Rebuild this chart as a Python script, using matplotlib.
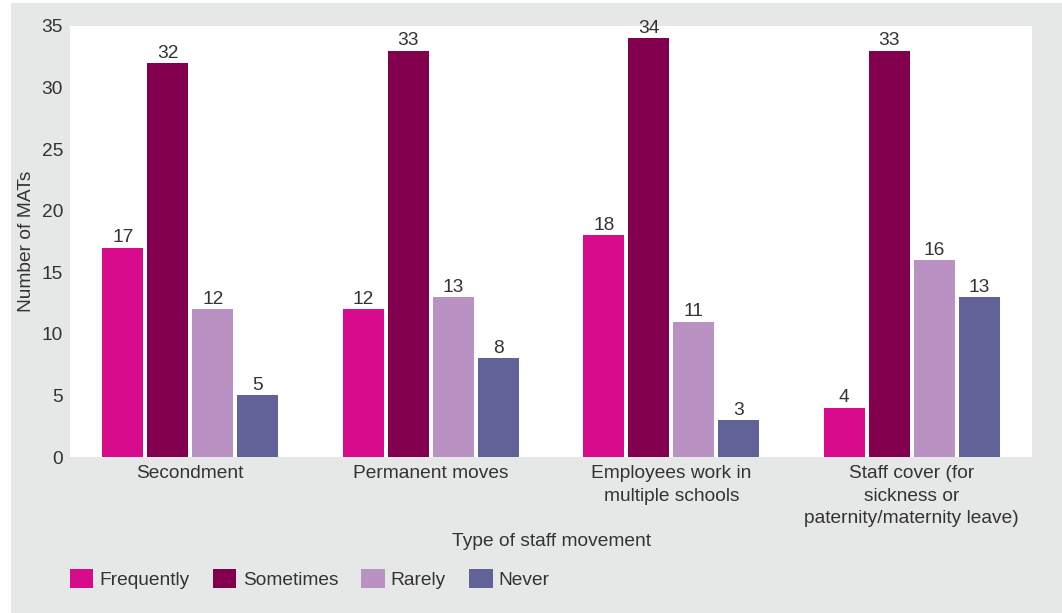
import matplotlib
matplotlib.use('Agg')
import numpy as np
import matplotlib.pyplot as plt
from matplotlib.patches import Rectangle

# Survey counts per type of staff movement
categories = ['Secondment', 'Permanent moves', 'Employees work in\nmultiple schools',
              'Staff cover (for\nsickness or\npaternity/maternity leave)']
frequently = [17, 12, 18, 4]
sometimes = [32, 33, 34, 33]
rarely = [12, 13, 11, 16]
never = [5, 8, 3, 13]

series = [
    ('Frequently', frequently, '#d80b8c'),
    ('Sometimes', sometimes, '#83004f'),
    ('Rarely', rarely, '#b991c2'),
    ('Never', never, '#616298'),
]

plt.rcParams['font.family'] = ['Liberation Sans', 'DejaVu Sans']
text_col = '#333333'
fs = 13.8

fig = plt.figure(figsize=(10.62, 6.13), dpi=100, facecolor='white')
# grey panel behind the chart
fig.patches.append(Rectangle((11 / 1062, 0), 1, 610 / 613, transform=fig.transFigure,
                             facecolor='#e6e7e7', edgecolor='none', zorder=-1))

ax = fig.add_axes([70 / 1062, 1 - 457 / 613, 962 / 1062, 431 / 613])
ax.set_facecolor('white')

x = np.arange(len(categories))
width = 0.17
pitch = 0.187
for i, (name, vals, col) in enumerate(series):
    pos = x + (i - 1.5) * pitch
    bars = ax.bar(pos, vals, width, color=col, label=name)
    for b, v in zip(bars, vals):
        ax.annotate(str(v), (b.get_x() + b.get_width() / 2, v), xytext=(0, 1),
                    textcoords='offset points', ha='center', va='bottom',
                    fontsize=fs, color=text_col)

ax.set_xlim(-0.5, 3.5)
ax.set_ylim(0, 35)
ax.set_yticks(range(0, 36, 5))
ax.set_xticks(x)
ax.set_xticklabels(categories, linespacing=1.42)
ax.tick_params(length=0, labelsize=fs, labelcolor=text_col)
ax.tick_params(axis='y', pad=5)
ax.tick_params(axis='x', pad=6)
for s in ax.spines.values():
    s.set_visible(False)

ax.set_ylabel('Number of MATs', fontsize=fs, color=text_col, labelpad=5)
ax.set_xlabel('Type of staff movement', fontsize=fs, color=text_col, labelpad=4)

ax.legend(loc='lower left', bbox_to_anchor=(70 / 1062, 24 / 613), bbox_transform=fig.transFigure,
          ncol=4, frameon=False, fontsize=fs, labelcolor=text_col,
          handlelength=1.22, handleheight=1.22, handletextpad=0.33, columnspacing=1.2,
          borderpad=0, borderaxespad=0)

fig.savefig('out.png', dpi=100)
